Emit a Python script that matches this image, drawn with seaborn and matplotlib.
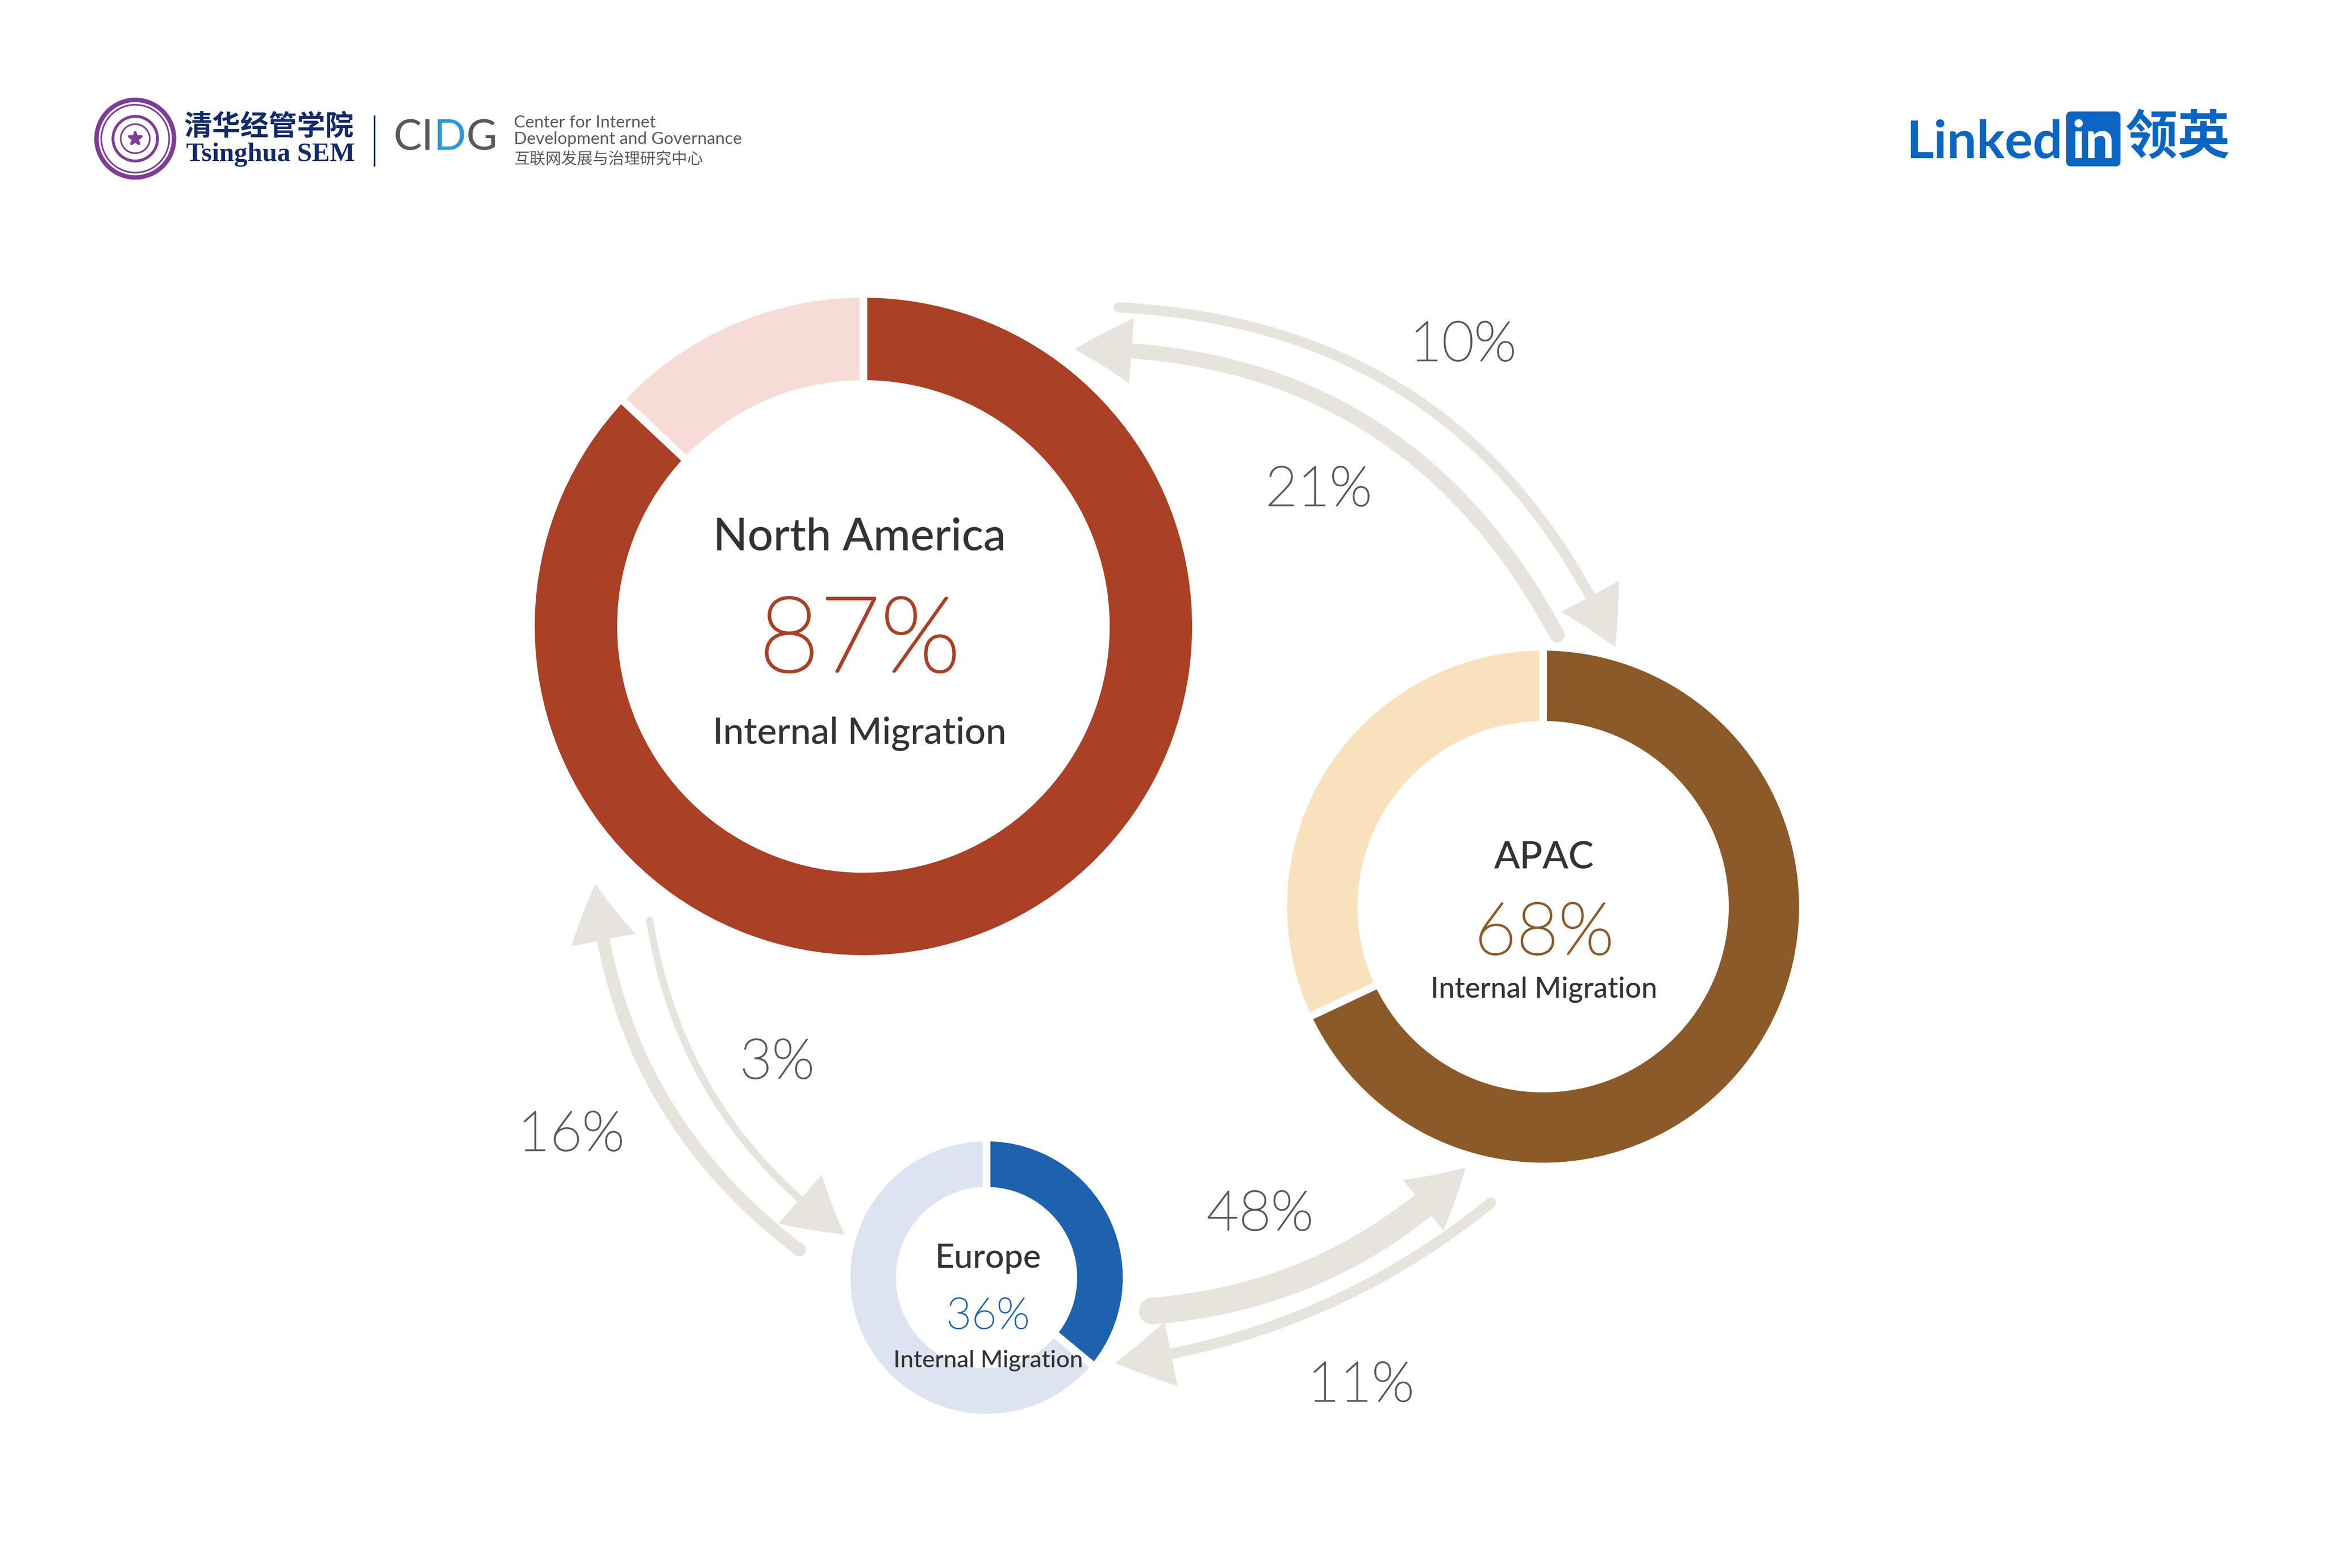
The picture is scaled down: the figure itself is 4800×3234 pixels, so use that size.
import matplotlib
matplotlib.use("Agg")
import matplotlib.pyplot as plt
import matplotlib.patheffects as pe
import numpy as np
import seaborn as sns
from matplotlib.patches import Circle, FancyArrowPatch, FancyBboxPatch, ArrowStyle
from matplotlib.path import Path

# ---- data ----
regions = ["North America", "APAC", "Europe"]
internal_pct = [87, 68, 36]
sub_label = "Internal Migration"

# flows: NA->APAC, APAC->NA, NA->EU, EU->NA, EU->APAC, APAC->EU
flow_labels = ["10%", "21%", "3%", "16%", "48%", "11%"]
flow_pct = [10, 21, 3, 16, 48, 11]

# ---- layout (pixel positions, y pointing down) ----
W, H = 4800, 3234
PT = 72 / 300  # points per pixel

centers = [(1781, 1292), (3183, 1870), (2035, 2635)]
outer_r = [678, 528, 281]
inner_r = [508, 383, 187]
dark = ["#AA4024", "#8B5A28", "#1C62AD"]
light = ["#F6DCD6", "#F8E1BB", "#DCE4F1"]

text_x = [1773, 3185, 2038]
title_y = [1135, 1792, 2615]
pct_y = [1385, 1968, 2740]
sub_y = [1534, 2058, 2819]
title_fs = [22.3, 18.8, 16.6]
pct_fs = [52, 36, 21.5]
sub_fs = [18.3, 14.1, 11.8]

tails = [(2308, 634), (3212, 1310), (1340, 1898), (1649, 2578), (2377, 2704), (3075, 2481)]
tips = [(3332, 1335), (2217, 720), (1742, 2546), (1228, 1823), (3023, 2408), (2300, 2811)]
bends = [190, -175, -80, 95, -65, 60]
label_pos = [(3018, 744), (2720, 1043), (1603, 2224), (1178, 2373), (2599, 2537), (2807, 2890)]

arrow_c = "#E7E4DE"
txt_dark = "#333333"
txt_gray = "#58585A"

sns.set_theme(style="white")
plt.rcParams["font.family"] = ["Lato", "DejaVu Sans"]
cjk = ["Noto Sans CJK SC", "DejaVu Sans"]

fig = plt.figure(figsize=(W / 300, H / 300), dpi=300)
fig.patch.set_facecolor("white")
ax = fig.add_axes([0, 0, 1, 1])

# donuts
gap = 16
for c, R, r, p, dk, lt in zip(centers, outer_r, inner_r, internal_pct, dark, light):
    ax.pie([p, 100 - p], colors=[dk, lt], center=c, radius=R + gap / 2,
           startangle=-90, counterclock=True,
           wedgeprops=dict(width=R - r + gap, edgecolor="white", linewidth=gap * PT))

ax.set_xlim(0, W)
ax.set_ylim(H, 0)
ax.axis("off")


def thin_num(x, y, s, size, col):
    ax.text(x, y, s, ha="center", va="baseline", fontsize=size, fontweight="light",
            color=col, path_effects=[pe.withStroke(linewidth=size / 45, foreground=col)])


# donut texts
for i, name in enumerate(regions):
    ax.text(text_x[i], title_y[i], name, ha="center", va="baseline",
            fontsize=title_fs[i], fontweight="medium", color=txt_dark)
    thin_num(text_x[i], pct_y[i], f"{internal_pct[i]}%", pct_fs[i], dark[i])
    ax.text(text_x[i], sub_y[i], sub_label, ha="center", va="baseline",
            fontsize=sub_fs[i], fontweight="medium", color=txt_dark)

# flow arrows
for t0, t1, b, pct, lab, lp in zip(tails, tips, bends, flow_pct, flow_labels, label_pos):
    p0 = np.array(t0, float)
    p2 = np.array(t1, float)
    d = p2 - p0
    n = np.array([d[1], -d[0]]) / np.hypot(*d)
    ctrl = (p0 + p2) / 2 + 2 * b * n
    tw = 12 + 0.9 * pct
    style = ArrowStyle.Simple(head_length=117 * PT, head_width=135 * PT, tail_width=tw * PT)
    arr = FancyArrowPatch(path=Path([p0, ctrl, p2], [Path.MOVETO, Path.CURVE3, Path.CURVE3]),
                          arrowstyle=style, mutation_scale=1, color=arrow_c, lw=0)
    ax.add_patch(arr)
    ax.add_patch(Circle(p0, tw / 2, color=arrow_c, lw=0))
    thin_num(lp[0], lp[1], lab, 27.5, txt_gray)

# ---- header: Tsinghua SEM + CIDG ----
purple = "#7D3C98"
navy = "#102A6B"
for rr, lw in [(80, 2.2), (70, 0.8), (46, 1.4), (30, 0.8)]:
    ax.add_patch(Circle((279, 286), rr, fill=False, ec=purple, lw=lw))
ax.plot(279, 286, marker="*", ms=7, color=purple)

ax.text(380, 262, "清华经管学院", ha="left", va="center", fontsize=14,
        fontweight="bold", color=navy, family=cjk)
ax.text(384, 332, "Tsinghua SEM", ha="left", va="baseline", fontsize=13.2,
        fontweight="bold", color=navy, family=["Liberation Serif", "DejaVu Serif"])
ax.plot([772, 772], [239, 342], color=navy, lw=0.8)

t = ax.text(812, 309, "CI", ha="left", va="baseline", fontsize=21, color="#58595B")
t = ax.annotate("D", xy=(1, 0), xycoords=t, va="bottom", fontsize=21, color="#2A9AD6")
ax.annotate("G", xy=(1, 0), xycoords=t, va="bottom", fontsize=21, color="#58595B")

ax.text(1060, 263, "Center for Internet", ha="left", va="baseline", fontsize=8.4, color="#58595B")
ax.text(1060, 297, "Development and Governance", ha="left", va="baseline", fontsize=8.4, color="#58595B")
ax.text(1060, 339, "互联网发展与治理研究中心", ha="left", va="baseline", fontsize=7.8,
        color="#58595B", family=cjk)

# ---- header: LinkedIn ----
li_blue = "#0A66C2"
ax.text(3932, 326, "Linked", ha="left", va="baseline", fontsize=26,
        fontweight="bold", color=li_blue)
ax.add_patch(FancyBboxPatch((4262, 230), 112, 113, boxstyle="round,pad=0,rounding_size=10",
                            fc=li_blue, ec="none"))
ax.text(4318, 326, "in", ha="center", va="baseline", fontsize=26,
        fontweight="bold", color="white")
ax.text(4384, 286, "领英", ha="left", va="center", fontsize=26,
        fontweight="bold", color=li_blue, family=cjk)

fig.savefig("out.png", dpi=300, facecolor="white")
